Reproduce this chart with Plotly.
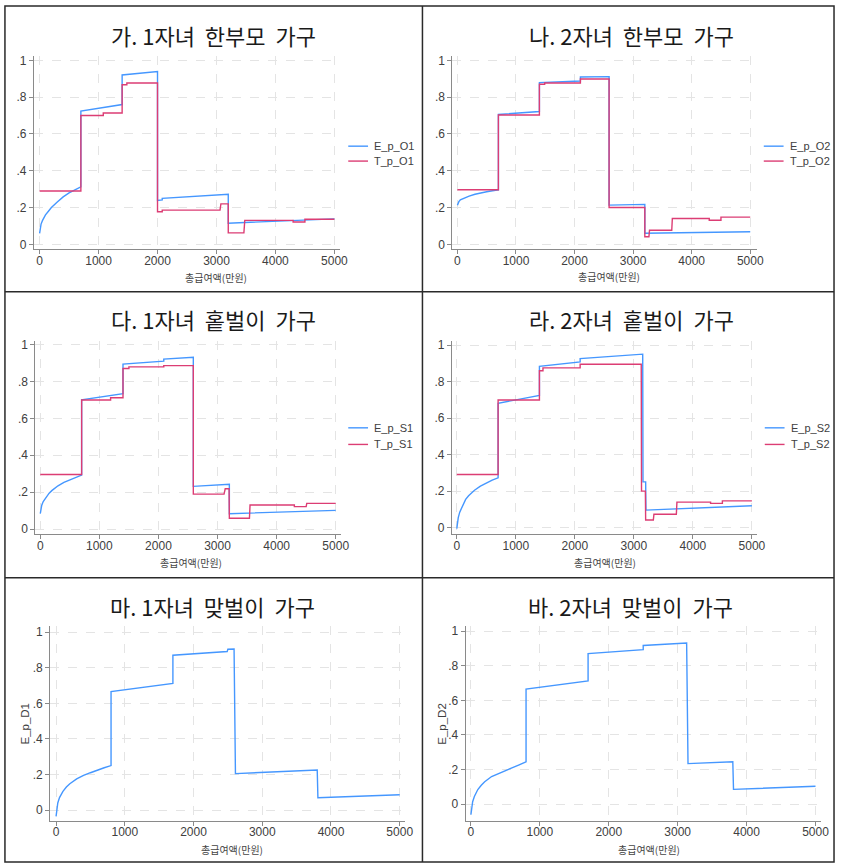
import plotly.graph_objects as go

# ---------------- data ----------------
X_TICKS = [0, 1000, 2000, 3000, 4000, 5000]
X_TICK_TEXT = ["0", "1000", "2000", "3000", "4000", "5000"]
Y_TICKS = [0, 0.2, 0.4, 0.6, 0.8, 1.0]
Y_TICK_TEXT = ["0", ".2", ".4", ".6", ".8", "1"]

SP = "\u00a0 "
PANEL_TITLES = ["가. 1자녀" + SP + "한부모" + SP + "가구", "나. 2자녀" + SP + "한부모" + SP + "가구",
                "다. 1자녀" + SP + "홑벌이" + SP + "가구", "라. 2자녀" + SP + "홑벌이" + SP + "가구",
                "마. 1자녀" + SP + "맞벌이" + SP + "가구", "바. 2자녀" + SP + "맞벌이" + SP + "가구"]
X_TITLE = "총급여액(만원)"

# 가. 1자녀 한부모
E_O1_x = [0, 10, 25, 50, 100, 150, 200, 300, 400, 500, 600, 700, 700, 1400, 1400, 2000, 2000, 2080, 2080, 3200, 3200, 4500, 5000]
E_O1_y = [0.06, 0.09, 0.11, 0.13, 0.16, 0.18, 0.20, 0.23, 0.258, 0.28, 0.297, 0.312, 0.725, 0.76, 0.921, 0.94, 0.238, 0.241, 0.25, 0.272, 0.115, 0.133, 0.138]
T_O1_x = [0, 700, 700, 1080, 1080, 1400, 1400, 1480, 1480, 2000, 2000, 2080, 2080, 3060, 3075, 3200, 3200, 3465, 3480, 4300, 4300, 4500, 4500, 5000]
T_O1_y = [0.29, 0.29, 0.70, 0.70, 0.714, 0.714, 0.868, 0.868, 0.877, 0.877, 0.177, 0.177, 0.186, 0.186, 0.22, 0.22, 0.062, 0.062, 0.13, 0.13, 0.121, 0.121, 0.136, 0.136]

# 나. 2자녀 한부모
E_O2_x = [0, 10, 25, 50, 100, 200, 300, 400, 500, 600, 700, 700, 1400, 1400, 2100, 2100, 2590, 2590, 3200, 3200, 5000]
E_O2_y = [0.212, 0.222, 0.232, 0.242, 0.25, 0.262, 0.272, 0.28, 0.286, 0.291, 0.296, 0.706, 0.722, 0.879, 0.888, 0.91, 0.912, 0.213, 0.217, 0.06, 0.068]
T_O2_x = [0, 700, 700, 1400, 1400, 1490, 1490, 2100, 2100, 2590, 2590, 3200, 3200, 3270, 3280, 3660, 3670, 4300, 4300, 4500, 4500, 5000]
T_O2_y = [0.297, 0.297, 0.703, 0.703, 0.87, 0.87, 0.877, 0.877, 0.899, 0.899, 0.2, 0.2, 0.041, 0.041, 0.076, 0.076, 0.14, 0.14, 0.131, 0.131, 0.148, 0.148]

# 다. 1자녀 홑벌이
E_S1_x = [0, 10, 25, 50, 100, 150, 200, 300, 400, 500, 600, 700, 700, 1400, 1400, 2090, 2090, 2590, 2590, 3200, 3200, 5000]
E_S1_y = [0.085, 0.11, 0.13, 0.15, 0.175, 0.195, 0.21, 0.235, 0.253, 0.267, 0.28, 0.293, 0.70, 0.733, 0.893, 0.909, 0.92, 0.93, 0.232, 0.243, 0.084, 0.102]
T_S1_x = [0, 700, 700, 1190, 1190, 1400, 1400, 1500, 1500, 2090, 2090, 2590, 2590, 3110, 3130, 3195, 3200, 3540, 3550, 4300, 4300, 4500, 4510, 5000]
T_S1_y = [0.296, 0.296, 0.699, 0.699, 0.711, 0.711, 0.869, 0.869, 0.878, 0.878, 0.885, 0.885, 0.19, 0.19, 0.219, 0.219, 0.059, 0.059, 0.131, 0.131, 0.122, 0.122, 0.14, 0.14]

# 라. 2자녀 홑벌이
E_S2_x = [0, 10, 25, 50, 100, 150, 200, 300, 400, 500, 600, 700, 700, 1400, 1400, 2090, 2090, 3150, 3155, 3200, 3205, 5000]
E_S2_y = [-0.005, 0.025, 0.055, 0.085, 0.125, 0.155, 0.175, 0.205, 0.228, 0.245, 0.26, 0.273, 0.682, 0.725, 0.884, 0.909, 0.927, 0.951, 0.251, 0.251, 0.096, 0.12]
T_S2_x = [0, 700, 700, 1400, 1400, 1460, 1460, 2090, 2090, 3125, 3130, 3195, 3200, 3330, 3340, 3720, 3730, 4300, 4300, 4500, 4500, 5000]
T_S2_y = [0.291, 0.291, 0.70, 0.70, 0.86, 0.86, 0.876, 0.876, 0.896, 0.896, 0.2, 0.2, 0.042, 0.042, 0.073, 0.073, 0.14, 0.14, 0.133, 0.133, 0.147, 0.147]

# 마. 1자녀 맞벌이
E_D1_x = [0, 10, 25, 50, 100, 150, 200, 300, 400, 500, 600, 700, 800, 800, 1700, 1700, 2490, 2500, 2590, 2610, 3800, 3810, 5000]
E_D1_y = [-0.035, 0.0, 0.04, 0.07, 0.105, 0.13, 0.148, 0.175, 0.195, 0.21, 0.225, 0.238, 0.25, 0.666, 0.712, 0.87, 0.891, 0.904, 0.905, 0.205, 0.225, 0.069, 0.086]

# 바. 2자녀 맞벌이
E_D2_x = [0, 10, 25, 50, 100, 150, 200, 300, 400, 500, 600, 700, 800, 800, 1700, 1700, 2500, 2500, 3130, 3150, 3800, 3810, 5000]
E_D2_y = [-0.06, -0.02, 0.015, 0.045, 0.085, 0.11, 0.13, 0.16, 0.178, 0.195, 0.21, 0.228, 0.245, 0.665, 0.712, 0.87, 0.893, 0.917, 0.931, 0.235, 0.245, 0.086, 0.104]

SERIES = [
    [("E_p_O1", E_O1_x, E_O1_y), ("T_p_O1", T_O1_x, T_O1_y)],
    [("E_p_O2", E_O2_x, E_O2_y), ("T_p_O2", T_O2_x, T_O2_y)],
    [("E_p_S1", E_S1_x, E_S1_y), ("T_p_S1", T_S1_x, T_S1_y)],
    [("E_p_S2", E_S2_x, E_S2_y), ("T_p_S2", T_S2_x, T_S2_y)],
    [("E_p_D1", E_D1_x, E_D1_y)],
    [("E_p_D2", E_D2_x, E_D2_y)],
]

# ---------------- layout (pixels) ----------------
W, H = 845, 865
BLUE = "#4597ff"
RED = "#dc3d74"
COLORS = [BLUE, RED]

PANELS = [
    dict(xd=(34.3, 343.3), yd=(53.3, 247.7), xr=(-96, 5089), yr=(-0.027, 1.024),
         title=(216, 31.7), xt=(218, 276), leg=(352, 144, 15), yt=None),
    dict(xd=(457.3, 765), yd=(53.3, 247.7), xr=(-85, 5113), yr=(-0.027, 1.024),
         title=(638, 31.7), xt=(616, 275), leg=(772, 144, 15), yt=None),
    dict(xd=(35.7, 345), yd=(340, 534.3), xr=(-84, 5095), yr=(-0.027, 1.018),
         title=(216, 318.3), xt=(193, 563), leg=(352, 427.3, 16.7), yt=None),
    dict(xd=(456.7, 765), yd=(340, 534.3), xr=(-84, 5084), yr=(-0.036, 1.023),
         title=(638, 318.3), xt=(612, 563), leg=(773, 427.3, 16.7), yt=None),
    dict(xd=(50.7, 409), yd=(626.7, 822.7), xr=(-86, 5072), yr=(-0.061, 1.034),
         title=(215, 606.7), xt=(235, 851), leg=None, yt=(25, 725)),
    dict(xd=(470.7, 830), yd=(626.7, 822.3), xr=(-76, 5082), yr=(-0.094, 1.029),
         title=(637.5, 606.7), xt=(656, 851), leg=None, yt=(446.7, 725)),
]

def fx(p):
    return p / W

def fy(p):
    return 1 - p / H

TICK_FONT = dict(family="Liberation Sans, Arial, sans-serif", size=12, color="#404040")
KR = "Noto Sans CJK KR, Noto Sans, sans-serif"

fig = go.Figure()
annotations = []
shapes = []

for i, (pan, series) in enumerate(zip(PANELS, SERIES)):
    n = i + 1
    xa = "x" if n == 1 else f"x{n}"
    ya = "y" if n == 1 else f"y{n}"
    for j, (name, xs, ys) in enumerate(series):
        fig.add_trace(go.Scatter(x=xs, y=ys, mode="lines", name=name,
                                 line=dict(color=COLORS[j], width=1.4),
                                 xaxis=xa, yaxis=ya, showlegend=False,
                                 hoverinfo="skip"))
    axcommon = dict(showline=True, linecolor="#8a8a8a", linewidth=1,
                    ticks="outside", ticklen=4, tickcolor="#8a8a8a", tickwidth=1,
                    showgrid=True, gridcolor="#e4e4e4", griddash="dash", gridwidth=1,
                    zeroline=False, tickfont=TICK_FONT, fixedrange=True)
    fig.layout["xaxis" if n == 1 else f"xaxis{n}"] = dict(
        domain=[fx(pan["xd"][0]), fx(pan["xd"][1])], range=list(pan["xr"]),
        anchor=ya, tickvals=X_TICKS, ticktext=X_TICK_TEXT, ticklabelstandoff=-4, **axcommon)
    fig.layout["yaxis" if n == 1 else f"yaxis{n}"] = dict(
        domain=[fy(pan["yd"][1]), fy(pan["yd"][0])], range=list(pan["yr"]),
        anchor=xa, tickvals=Y_TICKS, ticktext=Y_TICK_TEXT, **axcommon)

    annotations.append(dict(text=PANEL_TITLES[i], x=fx(pan["title"][0]), y=fy(pan["title"][1]),
                            xref="paper", yref="paper", xanchor="center", yanchor="middle",
                            showarrow=False, font=dict(family=KR, size=22, color="#1a1a1a")))
    annotations.append(dict(text=X_TITLE, x=fx(pan["xt"][0]), y=fy(pan["xt"][1]),
                            xref="paper", yref="paper", xanchor="center", yanchor="middle",
                            showarrow=False, font=dict(family=KR, size=10, color="#454545")))
    if pan["yt"] is not None:
        annotations.append(dict(text=series[0][0], x=fx(pan["yt"][0]), y=fy(pan["yt"][1]),
                                xref="paper", yref="paper", xanchor="center", yanchor="middle",
                                textangle=-90, showarrow=False,
                                font=dict(family="Liberation Sans, Arial", size=11.5, color="#404040")))
    if pan["leg"] is not None:
        lx, ly, dy = pan["leg"]
        for j, (name, _, _) in enumerate(series):
            yy = ly + j * dy
            shapes.append(dict(type="line", xref="paper", yref="paper",
                               x0=fx(lx), x1=fx(lx + 20), y0=fy(yy), y1=fy(yy),
                               line=dict(color=COLORS[j], width=1.4)))
            annotations.append(dict(text=name, x=fx(lx + 24), y=fy(yy),
                                    xref="paper", yref="paper", xanchor="left", yanchor="middle",
                                    showarrow=False,
                                    font=dict(family="Liberation Sans, Arial", size=11, color="#404040")))

FRAME = "#2a2a2a"
shapes.append(dict(type="rect", xref="paper", yref="paper", x0=fx(5), x1=fx(843),
                   y0=fy(864), y1=fy(3), line=dict(color=FRAME, width=1.5)))
shapes.append(dict(type="line", xref="paper", yref="paper", x0=fx(427), x1=fx(427),
                   y0=fy(864), y1=fy(3), line=dict(color=FRAME, width=1.5)))
for yy in (290.5, 578):
    shapes.append(dict(type="line", xref="paper", yref="paper", x0=fx(5), x1=fx(843),
                       y0=fy(yy), y1=fy(yy), line=dict(color=FRAME, width=1.5)))

fig.update_layout(width=W, height=H, margin=dict(l=0, r=0, t=0, b=0),
                  paper_bgcolor="white", plot_bgcolor="white", showlegend=False,
                  annotations=annotations, shapes=shapes)

fig.write_html("out.html")
